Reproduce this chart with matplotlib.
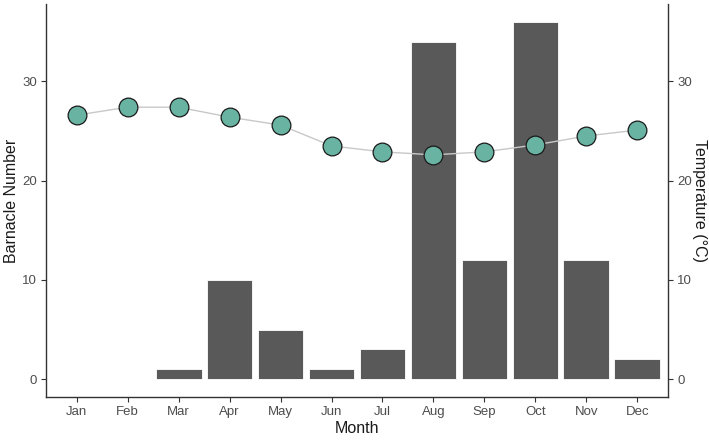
import matplotlib
matplotlib.use("Agg")
import matplotlib.pyplot as plt
import numpy as np

months = ["Jan", "Feb", "Mar", "Apr", "May", "Jun", "Jul", "Aug", "Sep", "Oct", "Nov", "Dec"]
barnacles = [0, 0, 1, 10, 5, 1, 3, 34, 12, 36, 12, 2]
temperature = [26.6, 27.4, 27.4, 26.4, 25.6, 23.5, 22.9, 22.6, 22.9, 23.6, 24.5, 25.1]
y_ticks = [0, 10, 20, 30]

plt.rcParams['font.family'] = ['Liberation Sans', 'DejaVu Sans']

fig = plt.figure(figsize=(7.09, 4.40), dpi=100)
ax = fig.add_axes([46/709, 43/440, (668-46)/709, (397-4)/440])
x = np.arange(len(months))

ax.bar(x, barnacles, width=0.9, color="#595959", edgecolor="white", linewidth=0.6, zorder=2)
ax.plot(x, temperature, color="#c8c8c8", linewidth=1.0, zorder=3)
ax.plot(x, temperature, linestyle="none", marker="o", markersize=13.5,
        markerfacecolor="#69b3a2", markeredgecolor="#1a1a1a", markeredgewidth=0.9, zorder=4)

ax.set_xlim(-0.6, len(months) - 1 + 0.6)
ax.set_ylim(-1.8, 37.8)
ax.set_xticks(x)
ax.set_xticklabels(months)
ax.set_yticks(y_ticks)

for s in ["top", "right"]:
    ax.spines[s].set_visible(False)
for s in ["left", "bottom"]:
    ax.spines[s].set_color("#333333")
    ax.spines[s].set_linewidth(1.0)
ax.tick_params(axis="both", colors="#333333", labelcolor="#4d4d4d", labelsize=9.5, length=3.5, width=0.8, pad=3)

ax.set_xlabel("Month", fontsize=11.5, color="#1a1a1a", labelpad=2)
ax.set_ylabel("Barnacle Number", fontsize=11.5, color="#1a1a1a", va="center", ha="center")
ax.yaxis.set_label_coords((11.5 - 46) / 622, 0.5)

ax2 = ax.twinx()
ax2.set_ylim(ax.get_ylim())
ax2.set_yticks(y_ticks)
for s in ["top", "left", "bottom"]:
    ax2.spines[s].set_visible(False)
ax2.spines["right"].set_color("#333333")
ax2.spines["right"].set_linewidth(1.0)
ax2.tick_params(axis="y", colors="#333333", labelcolor="#4d4d4d", labelsize=9.5, length=3.5, width=0.8, pad=3)
ax2.set_ylabel("Temperature (°C)", fontsize=11.5, color="#1a1a1a", rotation=270, va="center", ha="center")
ax2.yaxis.set_label_coords((699 - 46) / 622, 0.5)

fig.savefig("out.png", dpi=100)
